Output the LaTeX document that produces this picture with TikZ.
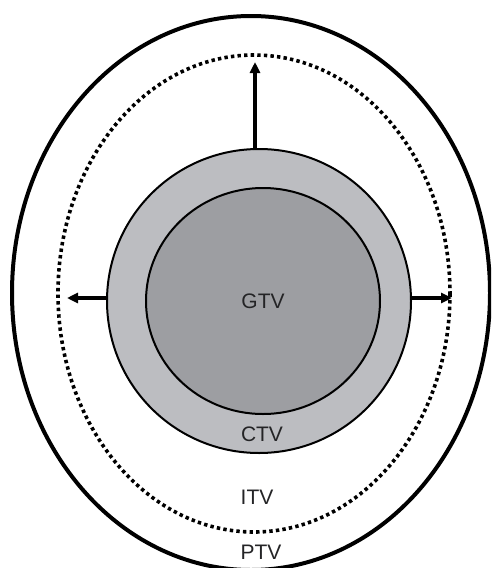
\documentclass[tikz,border=0pt]{standalone}
\usepackage{fontspec}
\setmainfont{Liberation Sans}
\usetikzlibrary{shapes.geometric,arrows.meta}
\definecolor{ctvgray}{HTML}{BCBDC1}
\definecolor{gtvgray}{HTML}{9D9EA2}
\definecolor{labelgray}{HTML}{242426}
\begin{document}
\begin{tikzpicture}[x=1pt,y=-1pt,
  boundary/.style={line width=4pt},
  dotline/.style={line width=3.6pt, dash pattern=on 3.4pt off 3.2pt},
  vol/.style={ellipse, draw, line width=2pt, inner sep=0pt},
  lbl/.style={inner sep=0pt, text=labelgray, font=\fontsize{21}{24}\selectfont},
  marginarrow/.style={line width=3.2pt, -{Triangle[length=11pt,width=10pt]}}]
\useasboundingbox (0,0) rectangle (491,568);
\clip (0,0) rectangle (491,568);
\draw[boundary] (251,293) ellipse [x radius=239, y radius=277];
\draw[dotline] (254,293.5) ellipse [x radius=196, y radius=238.5];
\node[vol, fill=ctvgray, minimum width=304pt, minimum height=304pt] (ctv) at (259,301) {};
\node[vol, fill=gtvgray, minimum width=234pt, minimum height=226pt] (gtv) at (263,301) {};
\coordinate (upS) at (255,150);
\coordinate (upE) at (255,62);
\coordinate (lfS) at (107,298);
\coordinate (lfE) at (67,298);
\coordinate (rtS) at (411,298);
\coordinate (rtE) at (452,298);
\draw[marginarrow] (upS) -- (upE);
\draw[marginarrow] (lfS) -- (lfE);
\draw[marginarrow] (rtS) -- (rtE);
\node[lbl] (gtvl) at (263,301) {GTV};
\node[lbl] (ctvl) at (262,434) {CTV};
\node[lbl] (itvl) at (257,497) {ITV};
\node[lbl] (ptvl) at (261,552) {PTV};
\end{tikzpicture}
\end{document}
